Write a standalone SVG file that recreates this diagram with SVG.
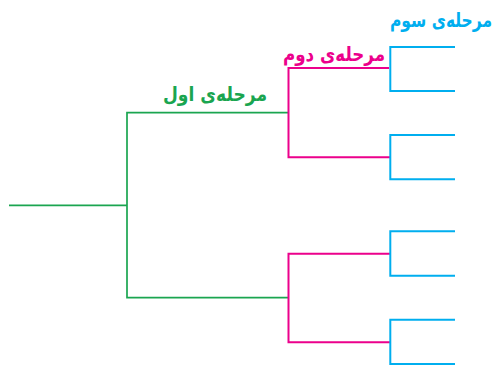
<svg xmlns="http://www.w3.org/2000/svg" width="495" height="365" viewBox="0 0 495 365">
<style>
.g{stroke:#1aa550;stroke-width:1.7;fill:none}
.p{stroke:#ec008c;stroke-width:2;fill:none}
.b{stroke:#00aeef;stroke-width:2;fill:none}
text{font-family:"DejaVu Sans",sans-serif;font-weight:bold;font-size:20px;text-anchor:middle}
</style>
<rect width="495" height="365" fill="#fff"/>
<g id="connectors">
<path class="g" d="M9,205.3H127M288,112.7H127V297.7H288"/>
<path class="p" d="M389,68H288.5V157.3H390M390,253.7H288.5V342.3H390"/>
<path class="b" d="M455,47H390.3V91H455M455,135H390.3V179.3H455M455,231.3H390.3V275.7H455M455,319.7H390.3V364H455"/>
</g>
<g id="label1"><text x="215" y="101" fill="#1aa550" textLength="104" lengthAdjust="spacingAndGlyphs">مرحله‌ی اول</text></g>
<g id="label2"><text x="334" y="61" fill="#ec008c" textLength="102" lengthAdjust="spacingAndGlyphs">مرحله‌ی دوم</text></g>
<g id="label3"><text x="441" y="27" fill="#00aeef" textLength="102" lengthAdjust="spacingAndGlyphs">مرحله‌ی سوم</text></g>
</svg>
